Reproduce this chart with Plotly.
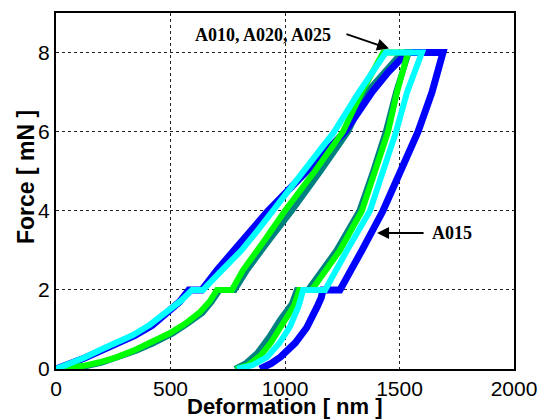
import plotly.graph_objects as go

# A010 (teal)
a010_x = [0, 65, 130, 200, 280, 350, 420, 510, 575, 640, 680, 715, 780, 834, 930, 1030, 1155, 1275, 1357, 1430, 1495, 1530, 1540,
          1485, 1440, 1385, 1325, 1225, 1165, 1100, 1052, 1030, 978, 930, 878, 830, 782]
a010_y = [0, 0.03, 0.07, 0.16, 0.3, 0.46, 0.64, 0.9, 1.15, 1.42, 1.7, 2, 2, 2.5, 3.25, 4, 5, 6, 7, 7.5, 7.9, 8, 8,
          7, 6, 5, 4, 3, 2.5, 2, 2, 1.65, 1.24, 0.8, 0.4, 0.15, 0]
# A015 (blue)
a015_x = [0, 50, 125, 200, 270, 345, 420, 490, 540, 580, 637, 703, 815, 926, 1095, 1262, 1380, 1450, 1517, 1530, 1690,
          1668, 1642, 1581, 1508, 1428, 1336, 1288, 1240, 1166, 1158, 1140, 1095, 1045, 980, 940, 891]
a015_y = [0, 0.1, 0.28, 0.47, 0.65, 0.85, 1.1, 1.42, 1.7, 2, 2, 2.5, 3.25, 4, 5, 6, 7, 7.5, 7.9, 8, 8,
          7.5, 7, 6, 5, 4, 3, 2.5, 2, 2, 1.8, 1.57, 1.05, 0.66, 0.3, 0.14, 0]
# A020 (green)
a020_x = [0, 60, 120, 190, 266, 340, 410, 498, 565, 629, 670, 703, 768, 817, 910, 1000, 1130, 1253, 1335, 1429, 1537,
          1489, 1450, 1395, 1336, 1240, 1180, 1117, 1062, 1040, 985, 940, 895, 840, 785]
a020_y = [0, 0.03, 0.08, 0.17, 0.3, 0.47, 0.66, 0.91, 1.15, 1.44, 1.7, 2, 2, 2.5, 3.25, 4, 5, 6, 7, 8, 8,
          7, 6, 5, 4, 3, 2.5, 2, 2, 1.6, 1.1, 0.68, 0.35, 0.1, 0]
# A025 (cyan)
a025_x = [0, 48, 120, 192, 264, 336, 410, 485, 545, 594, 642, 725, 810, 880, 948, 1085, 1215, 1323, 1440, 1598,
          1567, 1533, 1485, 1430, 1371, 1271, 1222, 1175, 1079, 1060, 1022, 975, 921, 860, 790]
a025_y = [0, 0.1, 0.28, 0.48, 0.66, 0.86, 1.12, 1.44, 1.72, 2, 2, 2.5, 3, 3.5, 4, 5, 6, 7, 8, 8,
          7.5, 7, 6, 5, 4, 3, 2.5, 2, 2, 1.6, 1.07, 0.65, 0.3, 0.1, 0]

series = [
    ("A010", a010_x, a010_y, "#008080", 6),
    ("A015", a015_x, a015_y, "#0000FF", 7),
    ("A020", a020_x, a020_y, "#00FF00", 6),
    ("A025", a025_x, a025_y, "#00FFFF", 6),
]

x_ticks = [0, 500, 1000, 1500, 2000]
y_ticks = [0, 2, 4, 6, 8]

fig = go.Figure()
for name, xs, ys, col, w in series:
    fig.add_trace(go.Scatter(x=xs, y=ys, mode="lines", name=name,
                             line=dict(color=col, width=w)))

axis_common = dict(
    showline=True, linecolor="black", linewidth=2, mirror=True,
    showgrid=True, gridcolor="#222", gridwidth=1, griddash="dot",
    zeroline=False, ticks="", automargin=False, ticklabeloverflow="allow",
    tickfont=dict(family="Liberation Sans, Arial", size=21, color="black"),
)

fig.update_layout(
    width=538, height=419,
    margin=dict(l=56, r=24, t=13, b=50),
    paper_bgcolor="white", plot_bgcolor="white",
    showlegend=False,
    xaxis=dict(range=[0, 2000], tickvals=x_ticks, **axis_common),
    yaxis=dict(range=[0, 9], tickvals=y_ticks, **axis_common),
)

title_font = dict(family="Liberation Sans, Arial", size=22, color="black")
# axis titles as paper annotations for exact placement
fig.add_annotation(x=0.5, y=-0.104, xref="paper", yref="paper", xanchor="center", yanchor="middle",
                   text="<b>Deformation [ nm ]</b>", showarrow=False, font=title_font, borderpad=0)
fig.add_annotation(x=-0.067, y=0.54, xref="paper", yref="paper", xanchor="center", yanchor="middle",
                   text="<b>Force [ mN ]</b>", textangle=-90, showarrow=False,
                   font=dict(family="Liberation Sans, Arial", size=23, color="black"))

# arrows (no text), tail given in pixels
fig.add_annotation(x=1454, y=8.1, ax=-44, ay=-15, text="", showarrow=True,
                   arrowhead=2, arrowsize=1.2, arrowwidth=2, arrowcolor="black")
fig.add_annotation(x=1402, y=3.44, ax=48, ay=0, text="", showarrow=True,
                   arrowhead=2, arrowsize=1.2, arrowwidth=2, arrowcolor="black")
# labels
fig.add_annotation(x=1729, y=3.44, text="<b>A015</b>", showarrow=False,
                   font=dict(family="Liberation Serif, Times New Roman", size=18, color="black"))
fig.add_annotation(x=905, y=8.45, text="<b>A010, A020, A025</b>", showarrow=False,
                   font=dict(family="Liberation Serif, Times New Roman", size=18, color="black"))

fig.write_html("out.html")
